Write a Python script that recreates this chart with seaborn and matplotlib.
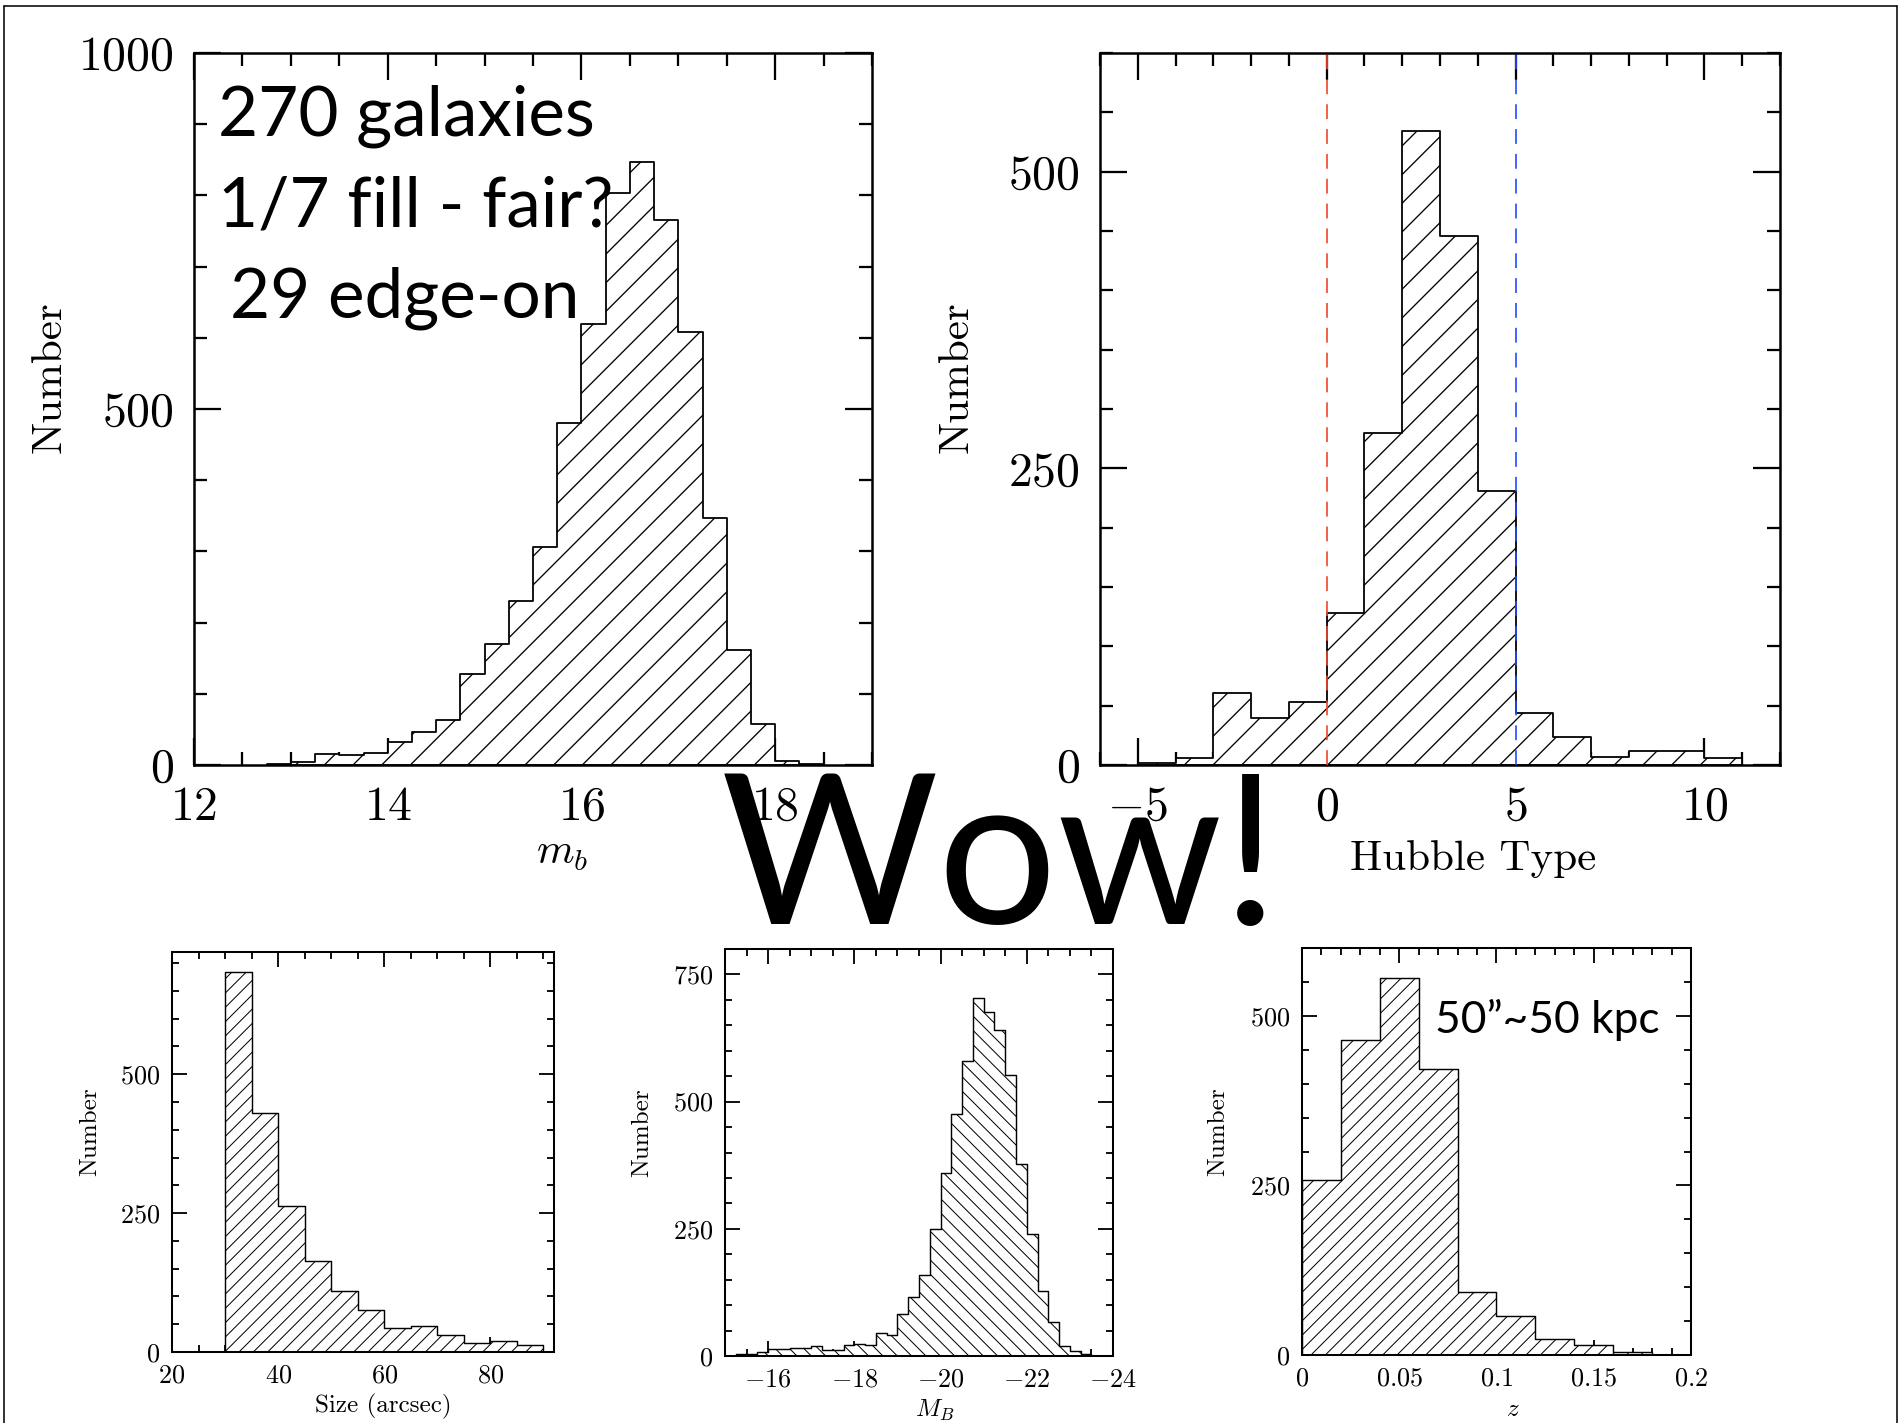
import numpy as np
import pandas as pd
import matplotlib
matplotlib.use("Agg")
import matplotlib.pyplot as plt
from matplotlib.lines import Line2D
from matplotlib.ticker import MultipleLocator, FuncFormatter
import seaborn as sns

# ---- histogram counts (bin start, bin width, counts per bin) ----
# apparent B magnitude
mb_start, mb_width = 12.75, 0.25
mb_counts = [2, 4, 16, 14, 17, 32, 46, 63, 128, 170, 231, 306, 481,
             620, 804, 847, 766, 608, 347, 162, 57, 6, 2]

# Hubble morphological type
ht_start, ht_width = -5, 1
ht_counts = [2, 6, 61, 40, 53, 128, 280, 534, 446, 231, 44, 24, 7, 12, 12, 6]

# angular size
size_start, size_width = 30, 5
size_counts = [684, 430, 262, 164, 109, 76, 44, 46, 31, 17, 19, 13]

# absolute B magnitude (ascending, brightest bin first)
abs_start, abs_width = -23.5, 0.25
abs_counts = [4, 10, 19, 66, 128, 240, 377, 552, 641, 677, 704, 580, 475,
              360, 250, 160, 116, 83, 42, 46, 22, 24, 21, 12, 11, 19, 15,
              16, 14, 13, 7, 3, 3]

# redshift
z_start, z_width = 0.0, 0.02
z_counts = [258, 464, 556, 421, 93, 57, 24, 15, 4]

# morphological boundaries marked on the Hubble-type panel
ht_cuts = [0, 5]
ht_cut_colors = ["#f0462a", "#1f4cff"]

sns.set_style("ticks", rc={"axes.edgecolor": "black", "xtick.color": "black",
                           "ytick.color": "black", "axes.labelcolor": "black",
                           "text.color": "black"})
plt.rcParams["mathtext.fontset"] = "cm"
plt.rcParams["font.family"] = ["cmr10", "DejaVu Serif"]
plt.rcParams["axes.formatter.use_mathtext"] = True
plt.rcParams["axes.unicode_minus"] = False
plt.rcParams["lines.scale_dashes"] = False

W, H, DPI = 1902, 1423, 172
fig = plt.figure(figsize=(W / DPI, H / DPI), dpi=DPI)
fig.patch.set_facecolor("white")


def box(l, r, t, b):
    return [l / W, 1 - b / H, (r - l) / W, (b - t) / H]


def draw_hist(ax, start, width, counts, hatch, lw, hatch_lw):
    counts = np.asarray(counts, dtype=float)
    edges = start + width * np.arange(len(counts) + 1)
    df = pd.DataFrame({"value": edges[:-1] + width / 2, "count": counts})
    with plt.rc_context({"hatch.linewidth": hatch_lw}):
        sns.histplot(data=df, x="value", weights="count",
                     bins=[float(e) for e in edges],
                     element="step", fill=True, facecolor="white",
                     edgecolor="black", linewidth=lw, hatch=hatch, alpha=1,
                     ax=ax)
    for coll in ax.collections:
        if hasattr(coll, "set_hatch_linewidth"):
            coll.set_hatch_linewidth(hatch_lw)


fmt = FuncFormatter(lambda v, p: f"${v:g}$")


def style(ax, xlim, ylim, xmaj, xmin, ymaj, ymin, big):
    ax.set_xlim(*xlim)
    ax.set_ylim(*ylim)
    ax.xaxis.set_major_locator(MultipleLocator(xmaj))
    ax.xaxis.set_minor_locator(MultipleLocator(xmin))
    ax.yaxis.set_major_locator(MultipleLocator(ymaj))
    ax.yaxis.set_minor_locator(MultipleLocator(ymin))
    ax.xaxis.set_major_formatter(fmt)
    ax.yaxis.set_major_formatter(fmt)
    if big:
        spine_w, maj_l, min_l, fs, pad = 1.05, 11.3, 5.4, 20, 8.5
    else:
        spine_w, maj_l, min_l, fs, pad = 0.85, 6.3, 3.0, 11, 5
    for s in ax.spines.values():
        s.set_linewidth(spine_w)
        s.set_color("black")
        s.set_visible(True)
    ax.tick_params(which="both", direction="in", top=True, right=True,
                   width=spine_w * 0.9, color="black")
    ax.tick_params(which="major", length=maj_l, labelsize=fs, pad=pad)
    ax.tick_params(which="minor", length=min_l)
    ax.set_facecolor("white")


def labels(ax, xl, yl, xpos, ypos, size):
    ax.set_xlabel(xl, fontsize=size, va="center")
    ax.set_ylabel(yl, fontsize=size, va="center")
    ax.xaxis.set_label_coords(*xpos)
    ax.yaxis.set_label_coords(*ypos)


# ---- top left: apparent magnitude ----
ax1 = fig.add_axes(box(194, 872, 53, 765))
draw_hist(ax1, mb_start, mb_width, mb_counts, "//", 0.75, 0.55)
style(ax1, (12, 19), (0, 1000), 2, 0.5, 500, 100, True)
labels(ax1, r"$m_b$", "Number", (0.543, -0.126), (-0.212, 0.545), 18)

# ---- top right: Hubble type ----
ax2 = fig.add_axes(box(1100, 1780, 53, 765))
draw_hist(ax2, ht_start, ht_width, ht_counts, "//", 0.75, 0.55)
for xc, col in zip(ht_cuts, ht_cut_colors):
    ax2.axvline(xc, color=col, lw=0.7, ls=(0, (6.2, 4.2)), zorder=5)
style(ax2, (-6, 12), (0, 600), 5, 1, 250, 50, True)
labels(ax2, "Hubble Type", "Number", (0.549, -0.132), (-0.21, 0.545), 18)

# ---- bottom left: size ----
ax3 = fig.add_axes(box(172, 554, 952, 1352))
draw_hist(ax3, size_start, size_width, size_counts, "////", 0.6, 0.42)
style(ax3, (20, 92), (0, 720), 20, 5, 250, 50, False)
labels(ax3, "Size (arcsec)", "Number", (0.552, -0.135), (-0.215, 0.55), 10.5)

# ---- bottom middle: absolute magnitude ----
ax4 = fig.add_axes(box(725, 1113, 949, 1356))
draw_hist(ax4, abs_start, abs_width, abs_counts, "\\\\\\\\", 0.6, 0.42)
style(ax4, (-15, -24), (0, 800), 2, 0.5, 250, 50, False)
labels(ax4, r"$M_B$", "Number", (0.541, -0.133), (-0.214, 0.548), 10.5)

# ---- bottom right: redshift ----
ax5 = fig.add_axes(box(1302, 1691, 948, 1355))
draw_hist(ax5, z_start, z_width, z_counts, "////", 0.6, 0.42)
style(ax5, (0, 0.2), (0, 600), 0.05, 0.01, 250, 50, False)
labels(ax5, r"$z$", "Number", (0.542, -0.135), (-0.216, 0.548), 10.5)

# ---- annotations ----
sans = ["Lato", "DejaVu Sans"]
fig.text(218 / W, 1 - 136 / H, "270 galaxies", family=sans, fontsize=29,
         va="baseline", ha="left")
fig.text(218 / W, 1 - 227 / H, "1/7 fill - fair?", family=sans, fontsize=29,
         va="baseline", ha="left")
fig.text(230 / W, 1 - 318 / H, "29 edge-on", family=sans, fontsize=29,
         va="baseline", ha="left")
fig.text(1435 / W, 1 - 1033 / H, "50\u201d~50 kpc", family=sans, fontsize=18.5,
         va="baseline", ha="left")
fig.text(1000 / W, 1 - 924 / H, "Wow!", family=sans, fontsize=88,
         va="baseline", ha="center")

# ---- page frame ----
for xs, ys in [((4, 1897), (6, 6)), ((4, 4), (6, 1423)), ((1897, 1897), (6, 1423))]:
    fig.add_artist(Line2D([x / W for x in xs], [1 - y / H for y in ys],
                          color="black", lw=0.65))

fig.savefig("out.png", dpi=DPI, facecolor="white")
